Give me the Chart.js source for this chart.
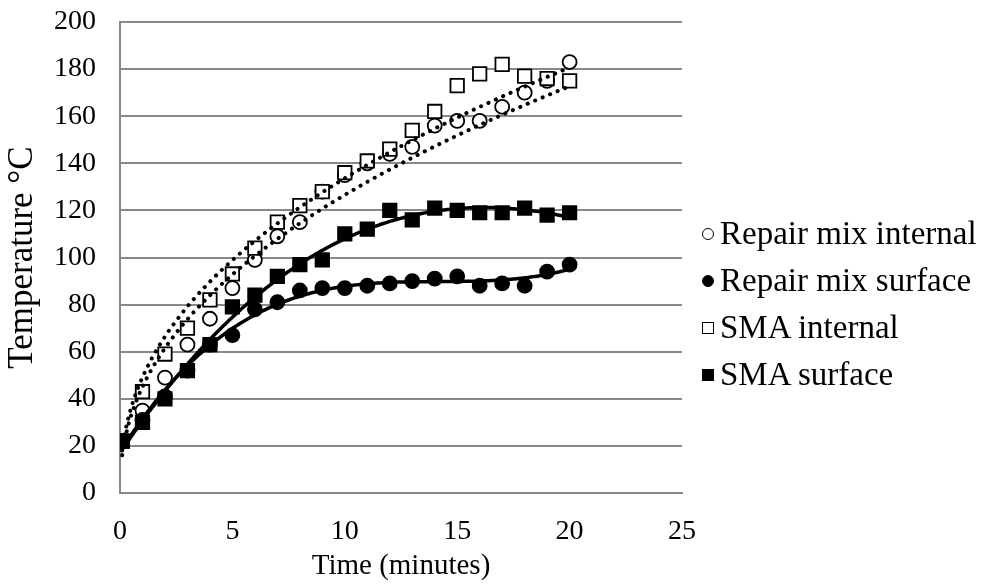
<!DOCTYPE html>
<html>
<head>
<meta charset="utf-8">
<script src="https://cdn.jsdelivr.net/npm/chart.js@4.4.1/dist/chart.umd.min.js"></script>
<style>
html,body{margin:0;padding:0;background:#fff;}
#wrap{position:relative;width:984px;height:584px;}
#legend{position:absolute;left:702px;top:210px;font-family:'Liberation Serif','Times New Roman',serif;font-size:33px;color:#000;}
.item{height:47px;line-height:47px;white-space:nowrap;}
.mk{display:inline-block;width:12px;height:12px;box-sizing:border-box;margin-right:6px;vertical-align:middle;position:relative;top:-2px;}
</style>
</head>
<body>
<div id="wrap">
<canvas id="chart" width="984" height="584"></canvas>
<div id="legend"></div>
</div>
<script>
/* ---------------------------- Data ---------------------------- */

const times = [0.1,1,2,3,4,5,6,7,8,9,10,11,12,13,14,15,16,17,18,19,20]
const repairInternal = [22,35,49,63,74,87,99,109,115,128,135,140,144,147,156,158,158,164,170,175,183]
const repairSurface = [22,31,41,52,63,67,78,81,86,87,87,88,89,90,91,92,88,89,88,94,97]
const smaInternal = [22,43,59,70,82,93,104,115,122,128,136,141,146,154,162,173,178,182,177,176,175]
const smaSurface = [22,30,40,52,63,79,84,92,97,99,110,112,120,116,121,120,119,119,121,118,119]
const seriesNames = ['Repair mix internal','Repair mix surface','SMA internal','SMA surface']
const xTicks = [0,5,10,15,20,25]
const yTicks = [0,20,40,60,80,100,120,140,160,180,200]

const fontFamily = "'Liberation Serif','Times New Roman',serif"
const gridGray = '#898989'

/* ---------------------------- Trendlines (least squares) ---------------------------- */

const polyFit=(xs,ys,order)=>{
    const n=order+1
    const A=[]
    for (let r=0;r<n;r++){
        const row=[]
        for (let c=0;c<n;c++){
            row.push(xs.reduce((s,x)=>s+Math.pow(x,r+c),0))
        }
        row.push(xs.reduce((s,x,i)=>s+Math.pow(x,r)*ys[i],0))
        A.push(row)
    }
    for (let i=0;i<n;i++){
        let p=i
        for (let k=i+1;k<n;k++) if (Math.abs(A[k][i])>Math.abs(A[p][i])) p=k
        const tmp=A[i]; A[i]=A[p]; A[p]=tmp
        for (let k=i+1;k<n;k++){
            const f=A[k][i]/A[i][i]
            for (let c=i;c<=n;c++) A[k][c]-=f*A[i][c]
        }
    }
    const coef=new Array(n).fill(0)
    for (let i=n-1;i>=0;i--){
        let s=A[i][n]
        for (let c=i+1;c<n;c++) s-=A[i][c]*coef[c]
        coef[i]=s/A[i][i]
    }
    return coef
}

// y = a*x^b, fitted on logs like a spreadsheet power trendline
const powerFn=(ys)=>{
    const lx=times.map(Math.log), ly=ys.map(Math.log)
    const c=polyFit(lx,ly,1)
    return x=>Math.exp(c[0])*Math.pow(x,c[1])
}
const polyFn=(ys,order)=>{
    const coef=polyFit(times,ys,order)
    return x=>coef.reduce((s,c,i)=>s+c*Math.pow(x,i),0)
}

const trendPoints=fn=>{
    const pts=[]
    const x0=times[0], x1=times[times.length-1]
    for (let k=0;k<=300;k++){
        const x=x0+(x1-x0)*k/300
        pts.push({x:x,y:fn(x)})
    }
    return pts
}

const toPoints=ys=>ys.map((y,i)=>({x:times[i],y:y}))

/* ---------------------------- Chart ---------------------------- */

const markerDefs=[
    {style:'circle',fill:'#fff',radius:7},
    {style:'circle',fill:'#000',radius:7},
    {style:'rect',fill:'#fff',radius:9.5},
    {style:'rect',fill:'#000',radius:9.5}
]
const allSeries=[repairInternal,repairSurface,smaInternal,smaSurface]

const datasets=allSeries.map((ys,i)=>({
    label:seriesNames[i],
    data:toPoints(ys),
    showLine:false,
    pointStyle:markerDefs[i].style,
    pointRadius:markerDefs[i].radius,
    pointBackgroundColor:markerDefs[i].fill,
    pointBorderColor:'#000',
    pointBorderWidth:1.8,
    order:5-i
}))

const trendDefs=[
    {fn:powerFn(repairInternal),dotted:true},
    {fn:polyFn(repairSurface,3),dotted:false},
    {fn:powerFn(smaInternal),dotted:true},
    {fn:polyFn(smaSurface,3),dotted:false}
]
trendDefs.forEach(t=>{
    datasets.push({
        label:'trend',
        data:trendPoints(t.fn),
        showLine:true,
        pointRadius:0,
        borderColor:'#000',
        borderWidth:t.dotted?4:3.5,
        borderDash:t.dotted?[0.1,8]:[],
        borderCapStyle:'round',
        tension:0,
        fill:false,
        order:0
    })
})

// tick padding also pads the plot edges in Chart.js, drop that so the plot sits where it should
const noEdgePad=s=>{s.paddingTop=0;s.paddingBottom=0}

const ctx=document.getElementById('chart')
new Chart(ctx,{
    type:'scatter',
    data:{datasets:datasets},
    options:{
        responsive:false,
        animation:false,
        layout:{padding:{left:0,right:302,top:22,bottom:0}},
        plugins:{legend:{display:false},tooltip:{enabled:false}},
        scales:{
            x:{
                type:'linear',min:0,max:25,
                afterBuildTicks:s=>{s.ticks=xTicks.map(v=>({value:v}))},
                ticks:{color:'#000',font:{family:fontFamily,size:28},padding:22},
                grid:{display:false,drawTicks:false},
                border:{display:true,color:gridGray,width:2},
                title:{display:true,text:'Time (minutes)',color:'#000',font:{family:fontFamily,size:29},padding:{top:0,bottom:0}},
                afterFit:s=>{s.height=91}
            },
            y:{
                type:'linear',min:0,max:200,
                afterBuildTicks:s=>{s.ticks=yTicks.map(v=>({value:v}))},
                ticks:{color:'#000',font:{family:fontFamily,size:28},padding:24},
                grid:{color:gridGray,lineWidth:2,drawTicks:false},
                border:{display:true,color:gridGray,width:2},
                title:{display:true,text:'Temperature °C',color:'#000',font:{family:fontFamily,size:35},padding:{top:2,bottom:0}},
                afterFit:s=>{s.width=120;noEdgePad(s)}
            }
        }
    }
})

/* ---------------------------- Legend ---------------------------- */

const legendBox=document.getElementById('legend')
seriesNames.forEach((name,i)=>{
    const row=document.createElement('div')
    row.setAttribute('class','item')
    const mk=document.createElement('span')
    mk.setAttribute('class','mk')
    mk.style.background=markerDefs[i].fill
    mk.style.border='1.5px solid #000'
    if (markerDefs[i].style==='circle') mk.style.borderRadius='50%'
    row.appendChild(mk)
    row.appendChild(document.createTextNode(name))
    legendBox.appendChild(row)
})
</script>
</body>
</html>
